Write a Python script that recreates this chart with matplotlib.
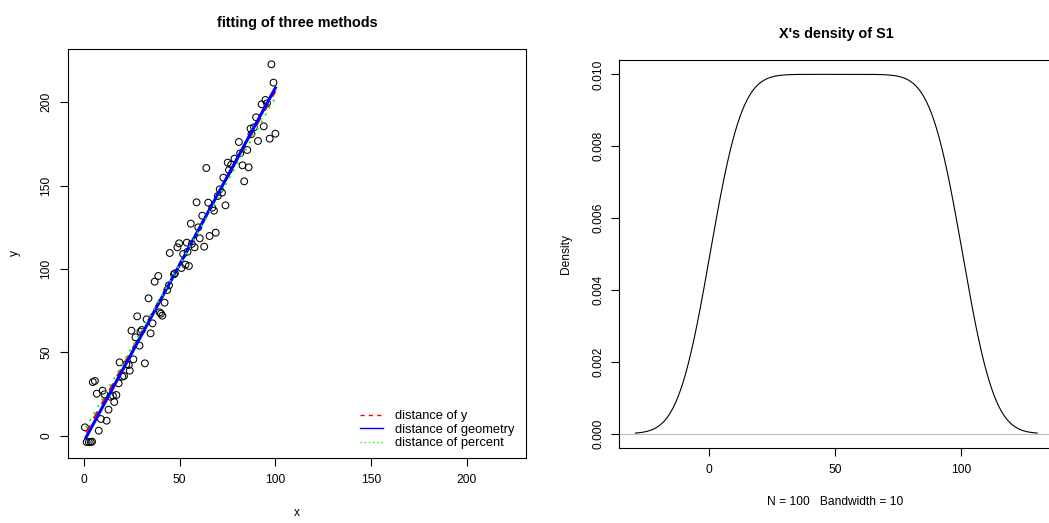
import numpy as np
import matplotlib
matplotlib.use("Agg")
import matplotlib.pyplot as plt
from matplotlib.lines import Line2D

# ==================================================
# DATA
# ==================================================
pts_x = [0.5, 1.4, 2.5, 3.5, 4.2, 7.7, 8.8, 11.8, 12.8, 4.6,
         5.7, 6.7, 9.7, 10.7, 13.7, 15.1, 15.8, 16.9, 18.1, 18.6,
         20.0, 20.9, 22.1, 23.4, 23.9, 25.8, 31.8, 29.0, 27.8, 24.8,
         26.9, 29.5, 30.2, 32.7, 33.7, 34.8, 35.8, 36.9, 38.8, 39.5,
         40.2, 40.9, 42.1, 43.5, 44.4, 44.8, 47.0, 47.5, 48.8, 49.7,
         50.9, 51.8, 53.0, 54.8, 53.7, 56.3, 57.8, 60.5, 62.8, 65.6,
         68.8, 97.9, 99.0, 100.0, 97.0, 94.8, 95.6, 92.8, 93.9, 90.9,
         89.9, 88.8, 87.0, 87.5, 85.3, 80.9, 86.0, 82.8, 83.7, 81.6,
         78.6, 76.9, 75.1, 75.7, 63.9, 72.8, 70.9, 72.1, 69.9, 73.9,
         64.9, 67.0, 67.9, 58.8, 61.8, 55.8, 59.7, 54.1]
pts_y = [5.0, -3.8, -3.8, -3.8, -3.6, 3.0, 10.0, 9.0, 15.6, 32.2,
         32.8, 25.2, 27.0, 24.8, 23.4, 24.0, 20.2, 24.4, 31.4, 44.0,
         35.4, 35.8, 42.8, 42.4, 39.0, 45.8, 43.4, 54.0, 71.6, 63.0,
         59.0, 62.4, 63.4, 69.8, 82.4, 61.4, 67.4, 92.4, 95.8, 74.0,
         73.2, 72.0, 79.8, 87.4, 90.2, 109.6, 96.8, 97.4, 113.0, 115.4,
         100.6, 109.0, 102.6, 101.8, 115.8, 115.0, 113.0, 118.4, 113.4, 119.8,
         121.8, 222.8, 211.8, 181.2, 178.2, 201.4, 199.4, 198.8, 185.6, 176.8,
         191.0, 185.0, 184.2, 181.0, 171.4, 176.2, 161.0, 162.2, 152.6, 169.4,
         166.2, 162.6, 163.8, 159.4, 160.6, 154.8, 147.8, 145.8, 143.8, 138.2,
         139.8, 136.8, 135.0, 140.0, 132.0, 127.2, 125.0, 110.4]

# fitted lines: intercept, slope
fit_names = ["distance of y", "distance of geometry", "distance of percent"]
fit_intercepts = [-0.1, -3.3, 2.8]
fit_slopes = [2.067, 2.12, 2.0]
fit_range = [1, 100]

# sample S1 for the density panel
s1 = np.arange(1, 101)
bandwidth = 10

# ==================================================
# FIGURE
# ==================================================
plt.rcParams['font.family'] = ['Liberation Sans', 'DejaVu Sans']
fs = 8.64

fig = plt.figure(figsize=(10.49, 5.23), dpi=100)
ax1 = fig.add_axes([0.0653, 0.1249, 0.4361, 0.7808])
ax2 = fig.add_axes([0.5904, 0.1434, 0.4137, 0.7419])

for ax in (ax1, ax2):
    for sp in ax.spines.values():
        sp.set_linewidth(0.8)
    ax.tick_params(direction='out', length=5.8, width=0.8, labelsize=fs)
    ax.tick_params(axis='x', pad=6)

# ---------------- left panel ----------------
ax1.scatter(pts_x, pts_y, s=24, facecolors='none', edgecolors='black',
            linewidths=0.75, zorder=2)
xs = np.array(fit_range, dtype=float)
styles = [dict(color='red', lw=1.44, dashes=(4, 4)),
          dict(color='blue', lw=2.2),
          dict(color='#00FF00', lw=1.44, dashes=(1, 3))]
for b, m, st in zip(fit_intercepts, fit_slopes, styles):
    ax1.plot(xs, b + m * xs, zorder=3, **st)

ax1.set_xlim(-8.1, 230.9)
ax1.set_ylim(-13.2, 231.8)
ax1.set_xticks([0, 50, 100, 150, 200])
ax1.set_yticks([0, 50, 100, 150, 200])
ax1.tick_params(axis='y', pad=6)
plt.setp(ax1.get_yticklabels(), rotation=90, va='center')
ax1.set_title("fitting of three methods", fontsize=10.4, fontweight='bold', pad=16)

handles = [Line2D([], [], color='red', lw=1.0, dashes=(3, 3)),
           Line2D([], [], color='blue', lw=1.0),
           Line2D([], [], color='#00FF00', lw=1.0, dashes=(1, 2))]
ax1.legend(handles, fit_names, loc='lower left', bbox_to_anchor=(0.637, 0.021),
           frameon=False, fontsize=9.3, handlelength=1.8, handletextpad=0.95,
           labelspacing=0.1, borderpad=0, borderaxespad=0)

fig.text(297 / 1049, 1 - 513 / 523, "x", ha='center', va='center', fontsize=fs)
fig.text(15 / 1049, 1 - 253 / 523, "y", ha='center', va='center', fontsize=fs, rotation=90)

# ---------------- right panel ----------------
grid = np.linspace(s1.min() - 3 * bandwidth, s1.max() + 3 * bandwidth, 512)
dens = np.exp(-0.5 * ((grid[:, None] - s1[None, :]) / bandwidth) ** 2).sum(axis=1)
dens = dens / (len(s1) * bandwidth * np.sqrt(2 * np.pi))

ax2.axhline(0, color='#BEBEBE', lw=0.8, zorder=1)
ax2.plot(grid, dens, color='black', lw=0.8, zorder=2)
ax2.set_xlim(-35.4, 136.4)
ax2.set_ylim(-0.0004, 0.0104)
ax2.set_xticks([0, 50, 100])
ax2.set_yticks([0.0, 0.002, 0.004, 0.006, 0.008, 0.010])
ax2.set_yticklabels(["0.000", "0.002", "0.004", "0.006", "0.008", "0.010"])
ax2.tick_params(axis='y', pad=5)
plt.setp(ax2.get_yticklabels(), rotation=90, va='center')
ax2.set_title("X's density of S1", fontsize=10.4, fontweight='bold', pad=16)

fig.text(835 / 1049, 1 - 502 / 523, "N = 100   Bandwidth = 10", ha='center', va='center', fontsize=fs)
fig.text(566 / 1049, 1 - 254 / 523, "Density", ha='center', va='center', fontsize=fs, rotation=90)

fig.savefig("out.png", dpi=100)
